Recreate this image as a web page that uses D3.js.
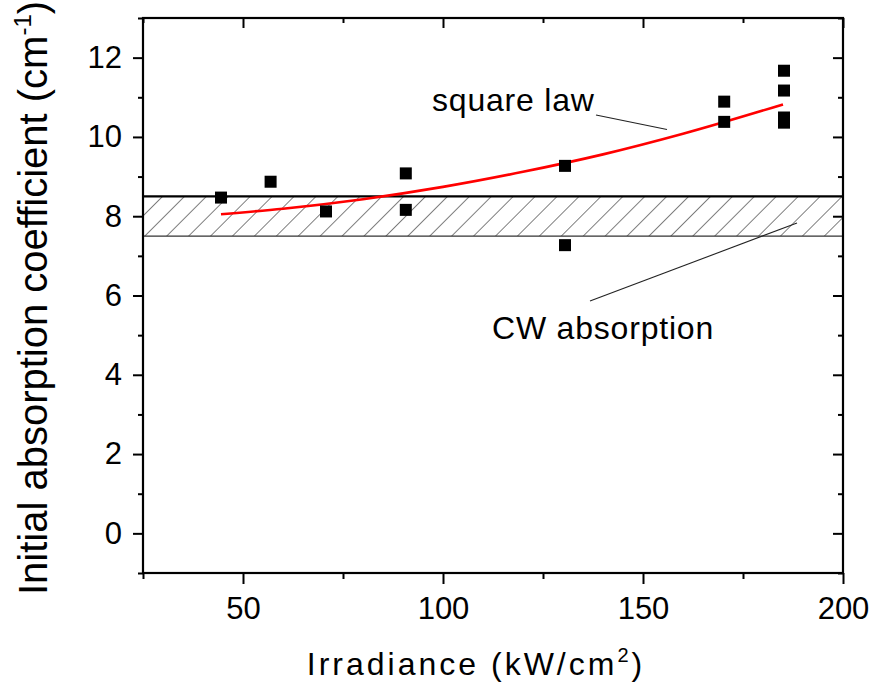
<!DOCTYPE html>
<html>
<head>
<meta charset="utf-8">
<script src="https://cdn.jsdelivr.net/npm/d3@7"></script>
<style>
  body { margin: 0; background: #fff; overflow: hidden; }
  text { font-family: "Liberation Sans", Arial, sans-serif; fill: #000; }
</style>
</head>
<body>
<svg id="chart"></svg>
<script>
const svg_width = 875;
const svg_height = 688;

// measured points
const irradiance = [44.5, 56.9, 70.75, 90.7, 90.7, 130.5, 130.5, 170.3, 170.3, 185.25, 185.25, 185.25, 185.25];
const absorption = [8.47, 8.87, 8.12, 9.08, 8.16, 9.27, 7.27, 10.89, 10.38, 11.67, 11.17, 10.49, 10.36];

// square law curve
const fitX = [44.5, 60, 80, 100, 120, 140, 160, 185];
const fitY = [8.05, 8.19, 8.43, 8.74, 9.12, 9.56, 10.08, 10.82];

// CW absorption band
const cwBand = [7.5, 8.5];

const xTicks = [50, 100, 150, 200];
const xMinor = [25, 75, 125, 175];
const yTicks = [0, 2, 4, 6, 8, 10, 12];
const yMinor = [-1, 1, 3, 5, 7, 9, 11, 13];

const margin = {top: 18, right: 32, bottom: 115, left: 143};
const innerWidth = svg_width - margin.left - margin.right;
const innerHeight = svg_height - margin.top - margin.bottom;

const svg = d3.select('#chart')
  .attr('width', svg_width)
  .attr('height', svg_height)
  .style('display', 'block');

const defs = svg.append('defs');
const pat = defs.append('pattern')
  .attr('id', 'hatch')
  .attr('patternUnits', 'userSpaceOnUse')
  .attr('width', 15.5)
  .attr('height', 15.5)
  .attr('patternTransform', 'rotate(45)');
pat.append('line')
  .attr('x1', 0).attr('y1', 0).attr('x2', 0).attr('y2', 15.5)
  .attr('stroke', '#000').attr('stroke-width', 1);

const g = svg.append('g').attr('transform', `translate(${margin.left}, ${margin.top})`);

const x = d3.scaleLinear().domain([25, 200]).range([0, innerWidth]);
const y = d3.scaleLinear().domain([-1, 13]).range([innerHeight, 0]);

// hatched band
g.append('rect')
  .attr('x', 0)
  .attr('y', y(cwBand[1]))
  .attr('width', innerWidth)
  .attr('height', y(cwBand[0]) - y(cwBand[1]))
  .attr('fill', 'url(#hatch)');
g.append('line')
  .attr('x1', 0).attr('x2', innerWidth)
  .attr('y1', y(cwBand[1])).attr('y2', y(cwBand[1]))
  .attr('stroke', '#000').attr('stroke-width', 2.2);
g.append('line')
  .attr('x1', 0).attr('x2', innerWidth)
  .attr('y1', y(cwBand[0])).attr('y2', y(cwBand[0]))
  .attr('stroke', '#333').attr('stroke-width', 1.3);

// axes
function styleAxis(sel) {
  sel.select('.domain').remove();
  sel.selectAll('line').attr('stroke', '#000').attr('stroke-width', 2);
  sel.selectAll('text').style('font-size', '31px').attr('fill', '#000')
    .style('font-family', '"Liberation Sans", Arial, sans-serif');
}
function bare(sel) {
  styleAxis(sel);
  sel.selectAll('text').remove();
}

g.append('g').attr('transform', `translate(0, ${innerHeight})`)
  .call(d3.axisBottom(x).tickValues(xTicks).tickSize(11).tickPadding(13).tickFormat(d3.format('d')))
  .call(styleAxis);
g.append('g').attr('transform', `translate(0, ${innerHeight})`)
  .call(d3.axisBottom(x).tickValues(xMinor).tickSize(6))
  .call(bare);
g.append('g')
  .call(d3.axisTop(x).tickValues(xTicks).tickSize(-10))
  .call(bare);
g.append('g')
  .call(d3.axisTop(x).tickValues(xMinor).tickSize(-5))
  .call(bare);

g.append('g')
  .call(d3.axisLeft(y).tickValues(yTicks).tickSize(10).tickPadding(11).tickFormat(d3.format('d')))
  .call(styleAxis);
g.append('g')
  .call(d3.axisLeft(y).tickValues(yMinor).tickSize(5))
  .call(bare);
g.append('g').attr('transform', `translate(${innerWidth}, 0)`)
  .call(d3.axisRight(y).tickValues(yTicks).tickSize(-10))
  .call(bare);
g.append('g').attr('transform', `translate(${innerWidth}, 0)`)
  .call(d3.axisRight(y).tickValues(yMinor).tickSize(-5))
  .call(bare);

// frame
g.append('rect')
  .attr('x', 0).attr('y', 0)
  .attr('width', innerWidth).attr('height', innerHeight)
  .attr('fill', 'none').attr('stroke', '#000').attr('stroke-width', 2.2);

// square law curve
const fitData = fitX.map((d, i) => [d, fitY[i]]);
g.append('path')
  .datum(fitData)
  .attr('fill', 'none')
  .attr('stroke', '#ff0000')
  .attr('stroke-width', 2.6)
  .attr('d', d3.line().x(d => x(d[0])).y(d => y(d[1])).curve(d3.curveMonotoneX));

// points
const pts = irradiance.map((d, i) => [d, absorption[i]]);
const sq = 12;
g.selectAll('.pt').data(pts).enter().append('rect')
  .attr('class', 'pt')
  .attr('x', d => x(d[0]) - sq / 2)
  .attr('y', d => y(d[1]) - sq / 2)
  .attr('width', sq).attr('height', sq)
  .attr('fill', '#000');

// annotations
svg.append('text')
  .attr('x', 432).attr('y', 111)
  .style('font-size', '32px').style('letter-spacing', '0.8px')
  .text('square law');
svg.append('line')
  .attr('x1', 596).attr('y1', 115).attr('x2', 667).attr('y2', 129.5)
  .attr('stroke', '#222').attr('stroke-width', 1.1);

svg.append('text')
  .attr('x', 492).attr('y', 339)
  .style('font-size', '32px').style('letter-spacing', '0.8px')
  .text('CW absorption');
svg.append('line')
  .attr('x1', 590).attr('y1', 301).attr('x2', 797).attr('y2', 223)
  .attr('stroke', '#222').attr('stroke-width', 1.1);

// axis titles
const xt = svg.append('text')
  .attr('x', 476).attr('y', 675)
  .attr('text-anchor', 'middle')
  .style('font-size', '32px').style('letter-spacing', '3px');
xt.append('tspan').text('Irradiance (kW/cm');
xt.append('tspan').attr('dy', -13).style('font-size', '20px').text('2');
xt.append('tspan').attr('dy', 13).text(')');

const yt = svg.append('text')
  .attr('transform', 'translate(47, 298) rotate(-90)')
  .attr('text-anchor', 'middle')
  .style('font-size', '40px');
yt.append('tspan').text('Initial absorption coefficient (cm');
yt.append('tspan').attr('dy', -16).style('font-size', '24px').text('-1');
yt.append('tspan').attr('dy', 16).text(')');
</script>
</body>
</html>
